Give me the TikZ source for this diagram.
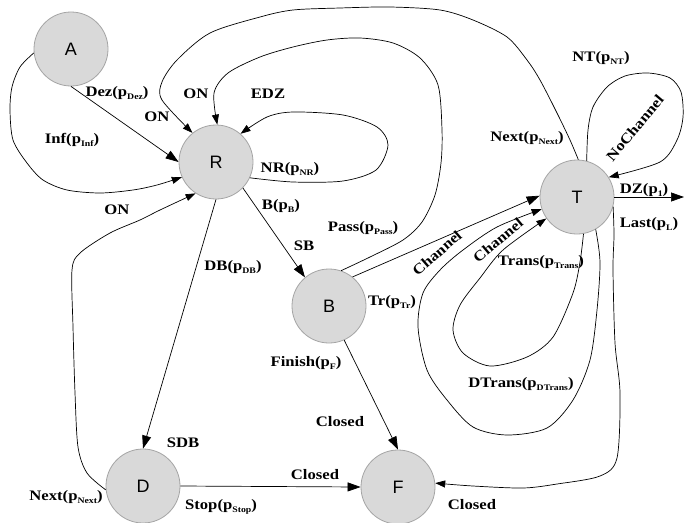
\documentclass[tikz,border=0pt]{standalone}
\usepackage{fontspec}
\newfontfamily\lblf{Liberation Serif}[FakeStretch=1.15]
\newfontfamily\nodef{Liberation Sans}
\usetikzlibrary{arrows.meta}
\definecolor{nodefill}{RGB}{217,217,217}
\definecolor{nodeline}{RGB}{165,165,165}
\newcommand\sbx[1]{\raisebox{-3pt}{\fontsize{8.5}{9}\selectfont #1}}
\begin{document}
\begin{tikzpicture}[x=1pt,y=-1pt,
  st/.style={circle, draw=nodeline, fill=nodefill, minimum size=74pt, inner sep=0pt,
    line width=0.8pt, font=\nodef\fontsize{18}{18}\selectfont},
  sedge/.style={line width=0.7pt, -{Triangle[length=13pt,width=9pt]}},
  cedge/.style={line width=0.7pt, -{Triangle[length=10pt,width=7pt]}},
  lbl/.style={font=\lblf\bfseries\fontsize{14.5}{15}\selectfont, inner sep=0pt}]
\useasboundingbox (0,0) rectangle (684,522);
\fill[white] (0,0) rectangle (684,522);

\node[st] (nA) at (71,49) {A};
\node[st] (nR) at (216,162) {R};
\node[st] (nB) at (329,306) {B};
\node[st] (nT) at (577,197) {T};
\node[st] (nD) at (143,486) {D};
\node[st] (nF) at (398,487) {F};
\coordinate (out) at (684,197);

% straight edges
\draw[sedge] (nA.south) -- (nR.west);
\draw[sedge] (nR.316) -- (nB.130);
\draw[sedge] (nR.south) -- (nD.north);
\draw[sedge] (nB.294) -- (nF.north);
\draw[sedge] (nD.east) -- (nF.west);
\draw[sedge] (nB.51) -- (nT.178);
\draw[sedge] (nT.east) -- (out);

% curved edges
\draw[cedge] plot[smooth] coordinates {(nA.186) (20,67) (12,87) (10,110) (13,140) (27,163) (43,180) (67,190) (100,193) (133,190) (157,185) (nR.204)};
\draw[cedge] plot[smooth] coordinates {(nD.186) (87,473) (78,447) (75,393) (73,327) (72,270) (80,253) (110,233) (140,220) (160,210) (nR.237)};
\draw[cedge] plot[smooth] coordinates {(nT.88) (570,140) (557,113) (540,80) (527,60) (507,37) (473,20) (440,10) (390,7) (340,8) (293,10) (260,17) (210,33) (177,60) (162,82) (162,100) (nR.129)};
\draw[cedge] plot[smooth] coordinates {(nB.71) (370,257) (403,240) (422,222) (435,195) (441,163) (442,130) (438,85) (420,58) (393,43) (360,38) (327,40) (293,47) (260,57) (228,73) (214,93) (nR.88)};
\draw[cedge] plot[smooth] coordinates {(nR.335) (293,182) (343,181) (376,170) (388,145) (377,127) (343,115) (293,112) (267,117) (nR.49)};
\draw[cedge] plot[smooth] coordinates {(nT.300) (600,262) (597,310) (590,360) (573,400) (547,428) (507,435) (473,427) (447,400) (427,370) (418,327) (423,293) (440,270) (463,250) (497,227) (nT.199)};
\draw[cedge] plot[smooth] coordinates {(nT.280) (580,262) (573,293) (553,337) (527,357) (490,366) (463,353) (453,330) (460,305) (480,278) (503,250) (nT.215)};
\draw[cedge] plot[smooth] coordinates {(nT.345) (614,235) (613,270) (615,343) (620,393) (617,458) (600,476) (557,484) (523,488) (473,486) (nF.6)};
\draw[cedge] plot[smooth] coordinates {(nT.75) (588,130) (593,107) (607,87) (625,76) (648,73) (670,78) (681,92) (683,117) (677,140) (660,162) (nT.32)};

% labels
\node[lbl] (lDez) at (117,93) {Dez(p\sbx{Dez})};
\node[lbl] (lInf) at (72,140) {Inf(p\sbx{Inf})};
\node[lbl] (lON1) at (157,117) {ON};
\node[lbl] (lON2) at (196,94) {ON};
\node[lbl] (lEDZ) at (268,94) {EDZ};
\node[lbl] (lNR) at (290,169) {NR(p\sbx{NR})};
\node[lbl] (lBp) at (281,206) {B(p\sbx{B})};
\node[lbl] (lON3) at (117,210) {ON};
\node[lbl] (lSB) at (304,246) {SB};
\node[lbl] (lPass) at (363,228) {Pass(p\sbx{Pass})};
\node[lbl] (lDB) at (233,267) {DB(p\sbx{DB})};
\node[lbl] (lSDB) at (183,443) {SDB};
\node[lbl] (lNextD) at (66,497) {Next(p\sbx{Next})};
\node[lbl] (lStop) at (221,507) {Stop(p\sbx{Stop})};
\node[lbl] (lCl1) at (315,475) {Closed};
\node[lbl] (lFin) at (306,363) {Finish(p\sbx{F})};
\node[lbl] (lCl2) at (340,422) {Closed};
\node[lbl] (lCl3) at (472,505) {Closed};
\node[lbl] (lTr) at (392,302) {Tr(p\sbx{Tr})};
\node[lbl] (lDTr) at (521,384) {DTrans(p\sbx{DTrans})};
\node[lbl] (lTrans) at (541,262) {Trans(p\sbx{Trans})};
\node[lbl, rotate=41] (lCh1) at (437,253) {Channel};
\node[lbl, rotate=40] (lCh2) at (498,240) {Channel};
\node[lbl] (lNextT) at (527,138) {Next(p\sbx{Next})};
\node[lbl] (lNT) at (601,58) {NT(p\sbx{NT})};
\node[lbl, rotate=50] (lNoCh) at (635,128) {NoChannel};
\node[lbl] (lDZ) at (644,190) {DZ(p\sbx{1})};
\node[lbl] (lLast) at (649,224) {Last(p\sbx{L})};
\end{tikzpicture}
\end{document}
